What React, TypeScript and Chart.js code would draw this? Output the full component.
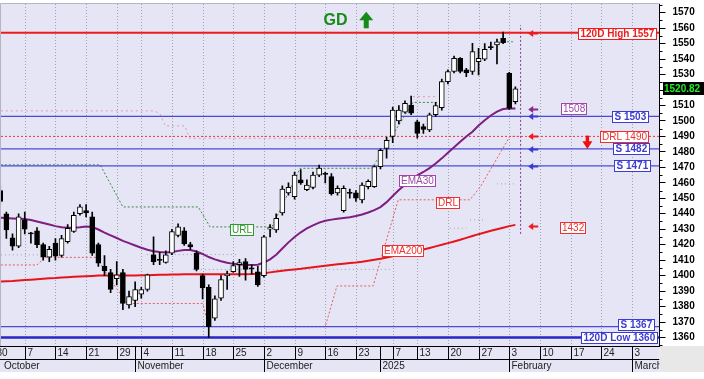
import React, { useEffect, useRef } from 'react';
import { Chart, registerables } from 'chart.js';

Chart.register(...registerables);

// ---------- data ----------
// trading days shown (index 1 = 2024-10-01; index 0 = 2024-09-30 lies left of the plot)
const tradingDates = [
  '2024-10-01','2024-10-02','2024-10-03','2024-10-04','2024-10-07','2024-10-08','2024-10-09','2024-10-10','2024-10-11',
  '2024-10-14','2024-10-15','2024-10-16','2024-10-17','2024-10-18','2024-10-21','2024-10-22','2024-10-23','2024-10-24',
  '2024-10-25','2024-10-29','2024-10-30','2024-10-31','2024-11-01','2024-11-04','2024-11-05','2024-11-06','2024-11-07',
  '2024-11-08','2024-11-11','2024-11-12','2024-11-13','2024-11-14','2024-11-15','2024-11-18','2024-11-19','2024-11-20',
  '2024-11-21','2024-11-22','2024-11-25','2024-11-26','2024-11-27','2024-11-28','2024-11-29','2024-12-02','2024-12-03',
  '2024-12-04','2024-12-05','2024-12-06','2024-12-09','2024-12-10','2024-12-11','2024-12-12','2024-12-13','2024-12-16',
  '2024-12-17','2024-12-18','2024-12-19','2024-12-20','2024-12-23','2024-12-27','2024-12-30','2024-12-31','2025-01-02',
  '2025-01-03','2025-01-07','2025-01-08','2025-01-09','2025-01-10','2025-01-13','2025-01-14','2025-01-15','2025-01-16',
  '2025-01-17','2025-01-20','2025-01-21','2025-01-22','2025-01-23','2025-01-24','2025-01-27','2025-01-28','2025-01-29',
  '2025-01-30','2025-01-31','2025-02-03','2025-02-04',
];
const firstIndex = 1;

const opens = [
  1455, 1440, 1424.5, 1419, 1436, 1427.5, 1429, 1420, 1412, 1421,
  1413, 1422, 1428.5, 1440, 1442, 1438, 1420, 1406, 1402, 1398,
  1402, 1381, 1384, 1388, 1391, 1413.5, 1410.5, 1408.5, 1414.5, 1426,
  1429, 1420, 1414.5, 1400, 1392.5, 1372.5, 1385.5, 1400, 1402.5, 1407,
  1409, 1405, 1402.5, 1400, 1430, 1429.5, 1440.5, 1453.5, 1451, 1462,
  1455.5, 1457, 1465, 1466, 1464, 1453.5, 1442, 1453.8, 1453.5, 1449,
  1457.5, 1457.5, 1470.5, 1482.3, 1490, 1500, 1505.6, 1510.3, 1499.5, 1496.3,
  1494.2, 1504, 1508.5, 1525.4, 1532, 1540.5, 1533, 1532, 1538.3, 1539.9,
  1547.5, 1549.1, 1553.4, 1530.8, 1512.5,
];
const highs = [
  1458, 1441, 1427, 1440, 1441, 1428, 1431, 1421, 1419, 1424,
  1426, 1433, 1441, 1446, 1446, 1441, 1421, 1413, 1404, 1409,
  1404, 1390, 1396, 1392.5, 1401, 1425, 1415, 1416, 1430, 1433.5,
  1431, 1421.5, 1416, 1401, 1394, 1387, 1400, 1403, 1409, 1410.5,
  1411, 1407, 1406, 1426, 1433, 1440, 1458, 1460, 1467, 1468.5,
  1462, 1467, 1471.5, 1467, 1466, 1458, 1458, 1456, 1455, 1460,
  1462, 1471, 1482, 1489.5, 1509, 1510, 1513, 1516, 1500.6, 1498,
  1505, 1512, 1527, 1533, 1542, 1541, 1534, 1550.2, 1547, 1550,
  1551, 1553, 1557.5, 1531.5, 1522,
];
const lows = [
  1446, 1424, 1416.5, 1418, 1427, 1421, 1418, 1410, 1409, 1410,
  1412, 1421, 1428, 1439, 1438, 1413, 1406, 1400, 1389, 1394,
  1378, 1379, 1380, 1385.5, 1390, 1407, 1407, 1408, 1413.5, 1425,
  1419.5, 1417, 1403, 1385, 1360, 1371, 1384, 1391, 1402, 1399.5,
  1397, 1401, 1393, 1399, 1425, 1428, 1439, 1452, 1449.5, 1459,
  1455, 1456, 1464, 1460, 1452, 1452, 1441, 1450, 1448, 1447,
  1456, 1457, 1469, 1476, 1486, 1498, 1505, 1504, 1488.8, 1492,
  1493, 1503, 1507, 1524, 1531, 1531, 1528.6, 1530, 1529.7, 1539,
  1546, 1536.8, 1550, 1507.5, 1511,
];
const closes = [
  1448, 1429.5, 1419, 1438, 1430, 1427, 1420, 1412, 1417, 1412.5,
  1424, 1430.5, 1439, 1444.5, 1440.5, 1414.5, 1408, 1403, 1391, 1400.5,
  1382, 1386.5, 1391, 1391, 1400.5, 1409, 1410, 1413.5, 1428.5, 1431.5,
  1420.5, 1418.5, 1404, 1392, 1367, 1385, 1397.5, 1401, 1406.5, 1408.5,
  1404, 1404.5, 1394, 1425, 1431, 1437, 1456, 1457, 1465, 1460,
  1458.5, 1465, 1469.5, 1465.5, 1453, 1456.5, 1456.5, 1453.3, 1450, 1458.5,
  1461, 1470.5, 1481, 1487.5, 1507, 1507, 1511.4, 1505, 1492, 1494.5,
  1503.9, 1510, 1525.5, 1531.9, 1540.5, 1532, 1531.2, 1544.8, 1540.5, 1546.3,
  1548, 1551.2, 1550.6, 1508.2, 1520.82,
];
const ema30 = [
  1437.5, 1437.2, 1437, 1436.8, 1436.6, 1436, 1435, 1434, 1433, 1432,
  1431.3, 1431, 1431, 1431.3, 1431.8, 1431.5, 1429.8, 1427.8, 1426, 1424.3,
  1422.5, 1421, 1419.5, 1418, 1416.7, 1415.8, 1415.2, 1415, 1415.3, 1416,
  1416.6, 1416.5, 1415.6, 1414, 1412, 1410.5, 1409.3, 1408.3, 1407.6, 1407.2,
  1407, 1406.9, 1407, 1408.5, 1410.5, 1413.5, 1417.5, 1421.5, 1425, 1428,
  1430.5, 1432.5, 1434.3, 1435.5, 1436.2, 1436.8, 1437.3, 1437.8, 1438.5, 1439.5,
  1440.8, 1442.3, 1444.3, 1447.5, 1451.5, 1455.3, 1458.8, 1462, 1464.8, 1467,
  1469.5, 1472.5, 1475.8, 1479.5, 1483, 1486.5, 1490, 1493, 1497, 1500.5,
  1503.5, 1506, 1507.7, 1508, 1508,
];
const ema200 = [
  1396.1, 1396.3, 1396.5, 1396.8, 1397.1, 1397.4, 1397.7, 1398, 1398.3, 1398.5,
  1398.8, 1399, 1399.2, 1399.4, 1399.6, 1399.8, 1400, 1400, 1400, 1400,
  1400, 1400, 1400.1, 1400.2, 1400.3, 1400.4, 1400.5, 1400.6, 1400.7, 1400.8,
  1400.9, 1400.9, 1400.9, 1400.9, 1400.9, 1400.9, 1400.9, 1400.9, 1400.9, 1400.9,
  1400.9, 1401, 1401.2, 1401.6, 1402.1, 1402.6, 1403.1, 1403.6, 1404, 1404.4,
  1404.9, 1405.4, 1405.9, 1406.4, 1406.9, 1407.3, 1407.7, 1408.1, 1408.5, 1409,
  1409.6, 1410.2, 1410.9, 1411.7, 1412.5, 1413.3, 1414.2, 1415.1, 1416, 1416.9,
  1417.9, 1418.9, 1419.9, 1421, 1422.1, 1423.2, 1424.4, 1425.6, 1426.8, 1427.9,
  1429, 1430, 1431, 1432, 1432.8,
];

// step / band lines: segments of [tradingDayIndex, value]
const urlSegments = [
  [[1.1, 1471.6], [17.3, 1471.6], [21, 1444.4], [33.3, 1444.4], [35.2, 1431.5], [45.3, 1431.5],
   [49.9, 1469.4], [61.6, 1469.4], [68.3, 1512], [72.2, 1512]],
  [[83, 1551.2], [84.6, 1551.2]],
];
const drlSegments = [
  [[1.1, 1406.9], [7, 1406.9], [8.3, 1411.8], [16.8, 1411.8], [18.5, 1400], [21.7, 1382], [34, 1382],
   [35, 1367], [54, 1367], [55.9, 1393.3], [61.8, 1393.3], [65.9, 1449], [77.6, 1449], [79.3, 1457.5],
   [84.1, 1490], [85.3, 1490]],
];
const upperSegments = [
  [[1.1, 1506.5], [26, 1506.5], [27, 1505], [27.9, 1496.8], [31.1, 1496.8], [31.9, 1488.8], [62, 1488.8]],
  [[68.3, 1515.7], [72.2, 1515.7]],
];
const lowerSegments = [
  [[1.1, 1413.4], [7.5, 1413.4]],
  [[24.9, 1413.6], [39.5, 1413.6]],
  [[32.4, 1404], [64.5, 1404]],
  [[74.3, 1430.6], [77, 1430.6]],
  [[77.6, 1436], [80, 1436]],
  [[82, 1459.3], [85, 1459.3]],
];

const high120 = 1557;
const low120 = 1360;
const supportLevels = [1503, 1482, 1471, 1367];
const drlLevel = 1490;
const ema30Last = 1508;
const ema200Last = 1432;
const lastClose = 1520.82;
const todayIndex = 85.85;
const todaySpan = [1427, 1562];

const yTickValues = [1360, 1370, 1380, 1390, 1400, 1410, 1420, 1430, 1440, 1450, 1460, 1470, 1480,
  1490, 1500, 1510, 1520, 1530, 1540, 1550, 1560, 1570];
const weekTickIndex = [0, 5, 10, 15, 20, 24, 29, 34, 39, 44, 49, 54, 59, 65, 69, 74, 79, 84, 89, 94, 99, 104];
const weekTickLabels = ['30', '7', '14', '21', '29', '4', '11', '18', '25', '2', '9', '16', '23', '7', '13',
  '20', '27', '3', '10', '17', '24', '3'];
const monthIndex = [0, 23, 44, 63, 84, 104];
const monthLabels = ['October', 'November', 'December', '2025', 'February', 'March'];

// ---------- layout / style ----------
const X_MIN = 1.125;
const X_MAX = 108.5;
const Y_MIN = 1354.5;
const Y_MAX = 1575.6;
const FONT = '"Liberation Sans", Arial, sans-serif';
const LAVENDER = '#E5E5F6';
const BLUE = '#3C3CD2';
const RED = '#EE1C1C';
const PURPLE = '#7E1E80';

function segData(segs: number[][][]) {
  const out: any[] = [];
  segs.forEach((seg, k) => {
    if (k) out.push({ x: seg[0][0], y: null });
    seg.forEach(([x, y]) => out.push({ x, y }));
  });
  return out;
}
function hline(v: number) {
  return [{ x: X_MIN, y: v }, { x: X_MAX, y: v }];
}
function lineDs(data: any[], color: string, width: number, dash: number[] = [], order = 3) {
  return {
    type: 'line', data, borderColor: color, borderWidth: width, borderDash: dash,
    pointRadius: 0, tension: 0, fill: false, spanGaps: false, order,
  };
}

const decor = {
  id: 'decor',
  beforeDraw(chart: any) {
    const { ctx, chartArea: a, width, height } = chart;
    const xs = chart.scales.x;
    ctx.save();
    ctx.fillStyle = '#ffffff';
    ctx.fillRect(0, 0, width, height);
    ctx.fillStyle = LAVENDER;
    ctx.fillRect(a.left, a.top, a.right - a.left, a.bottom - a.top);
    ctx.fillRect(0, a.bottom, a.right, 372 - a.bottom);
    ctx.fillStyle = '#E8E8E8';
    ctx.fillRect(a.right, a.bottom, width - a.right, 372 - a.bottom);
    // weekly dotted grid
    ctx.strokeStyle = '#A2A2B6';
    ctx.lineWidth = 1;
    ctx.setLineDash([1, 2]);
    weekTickIndex.forEach((i) => {
      const x = Math.round(xs.getPixelForValue(i)) + 0.5;
      if (x <= a.left || x >= a.right) return;
      ctx.beginPath();
      ctx.moveTo(x, a.top);
      ctx.lineTo(x, a.bottom);
      ctx.stroke();
    });
    ctx.restore();
  },
  afterDatasetsDraw(chart: any) {
    const { ctx } = chart;
    const xs = chart.scales.x;
    const ys = chart.scales.y;
    const px = (i: number) => xs.getPixelForValue(i);
    const py = (v: number) => ys.getPixelForValue(v);
    ctx.save();

    const tag = (text: string, idx: number, v: number, color: string, bold: boolean) => {
      ctx.font = `${bold ? 'bold ' : ''}10px ${FONT}`;
      const w = Math.round(ctx.measureText(text).width + (bold ? 4 : 3));
      const h = 11;
      const x0 = Math.round(px(idx));
      const y0 = Math.round(py(v) - h / 2);
      ctx.fillStyle = '#ffffff';
      ctx.fillRect(x0, y0, w, h);
      ctx.strokeStyle = color;
      ctx.lineWidth = 1;
      ctx.setLineDash([]);
      ctx.strokeRect(x0 + 0.5, y0 + 0.5, w, h);
      ctx.fillStyle = color;
      ctx.textAlign = 'left';
      ctx.textBaseline = 'middle';
      ctx.fillText(text, x0 + (bold ? 2.5 : 2), y0 + h / 2 + 1);
    };

    const leftArrow = (v: number, color: string) => {
      const x = px(87.09);
      const y = Math.round(py(v)) + 0.5;
      ctx.fillStyle = color;
      ctx.beginPath();
      ctx.moveTo(x, y);
      ctx.lineTo(x + 5, y - 3.5);
      ctx.lineTo(x + 5, y + 3.5);
      ctx.closePath();
      ctx.fill();
      ctx.fillRect(x + 4, y - 1, 6, 2);
    };

    // arrows by the levels
    leftArrow(high120, RED);
    leftArrow(ema30Last, '#8A2A8E');
    leftArrow(supportLevels[0], BLUE);
    leftArrow(drlLevel, RED);
    leftArrow(supportLevels[1], BLUE);
    leftArrow(supportLevels[2], BLUE);
    leftArrow(ema200Last, RED);

    // tags
    tag(`120D High ${high120}`, 95.24, 1556.6, RED, true);
    tag(`${ema30Last}`, 92.4, ema30Last, '#A048A8', false);
    tag(`S ${supportLevels[0]}`, 100.68, supportLevels[0], BLUE, true);
    tag(`DRL ${drlLevel}`, 98.8, drlLevel, '#F03030', false);
    tag(`S ${supportLevels[1]}`, 100.85, supportLevels[1], BLUE, true);
    tag(`S ${supportLevels[2]}`, 101.1, supportLevels[2], BLUE, true);
    tag(`${ema200Last}`, 92.25, 1431.3, '#F03030', false);
    tag(`S ${supportLevels[3]}`, 101.76, 1368.3, BLUE, true);
    tag(`120D Low ${low120}`, 95.63, 1359.7, BLUE, true);
    tag('EMA30', 66.06, 1461.5, '#A048A8', false);
    tag('URL', 38.46, 1430, '#2E9A2E', false);
    tag('DRL', 72.04, 1447.3, '#F03030', false);
    tag('EMA200', 63.19, 1416.3, '#F03030', false);

    // red down arrow (DRL)
    {
      const x = px(96.74);
      const yt = py(1490.5);
      const yb = py(1481.9);
      ctx.fillStyle = '#EE1010';
      ctx.fillRect(x - 1.7, yt, 3.4, (yb - yt) * 0.55);
      ctx.beginPath();
      ctx.moveTo(x - 5, yt + (yb - yt) * 0.42);
      ctx.lineTo(x + 5, yt + (yb - yt) * 0.42);
      ctx.lineTo(x, yb);
      ctx.closePath();
      ctx.fill();
    }
    // GD + green up arrow
    ctx.fillStyle = '#178A17';
    ctx.font = `bold 16px ${FONT}`;
    ctx.textAlign = 'center';
    ctx.textBaseline = 'middle';
    ctx.fillText('GD', px(55.66), py(1565.6) + 1);
    {
      const x = px(60.68);
      const yt = py(1570.6);
      const yb = py(1559.9);
      ctx.beginPath();
      ctx.moveTo(x, yt);
      ctx.lineTo(x + 7, yt + 8.5);
      ctx.lineTo(x - 7, yt + 8.5);
      ctx.closePath();
      ctx.fill();
      ctx.fillRect(x - 2.5, yt + 8, 5, yb - yt - 8);
    }
    ctx.restore();
  },
  afterDraw(chart: any) {
    const { ctx, chartArea: a, width } = chart;
    const xs = chart.scales.x;
    const ys = chart.scales.y;
    ctx.save();
    // plot frame
    ctx.strokeStyle = '#B4B4C4';
    ctx.lineWidth = 1;
    ctx.beginPath();
    ctx.moveTo(a.left - 0.5, a.bottom);
    ctx.lineTo(a.left - 0.5, a.top - 0.5);
    ctx.lineTo(a.right, a.top - 0.5);
    ctx.stroke();

    // minor y ticks
    ctx.strokeStyle = '#000';
    for (let v = 1355; v <= 1575; v += 5) {
      if (v % 10 === 0) continue;
      const y = Math.round(ys.getPixelForValue(v)) + 0.5;
      if (y < a.top || y > a.bottom) continue;
      ctx.beginPath();
      ctx.moveTo(a.right, y);
      ctx.lineTo(a.right + 3, y);
      ctx.stroke();
    }

    // last price box
    {
      const y = ys.getPixelForValue(lastClose);
      const x0 = Math.round(a.right + 3);
      ctx.fillStyle = '#000';
      ctx.fillRect(x0, Math.round(y - 6.5), width - x0, 13);
      ctx.fillStyle = '#22EE22';
      ctx.font = `bold 10px ${FONT}`;
      ctx.textAlign = 'left';
      ctx.textBaseline = 'middle';
      ctx.fillText(String(lastClose), x0 + 1, y + 0.5);
    }

    // bottom date axis
    const top = Math.round(a.bottom) + 0.5;
    const mid = top + 13;
    const bot = 372;
    ctx.beginPath();
    ctx.rect(0, a.bottom - 1, a.right, bot - a.bottom + 1);
    ctx.clip();
    ctx.strokeStyle = '#000';
    ctx.beginPath();
    ctx.moveTo(0, top);
    ctx.lineTo(a.right, top);
    ctx.moveTo(0, mid);
    ctx.lineTo(a.right, mid);
    ctx.stroke();
    ctx.font = `10px ${FONT}`;
    ctx.fillStyle = '#222';
    ctx.textAlign = 'left';
    ctx.textBaseline = 'middle';
    weekTickIndex.forEach((i, k) => {
      const x = Math.round(xs.getPixelForValue(i)) + 0.5;
      if (x > a.right) return;
      ctx.beginPath();
      ctx.moveTo(x, top);
      ctx.lineTo(x, mid);
      ctx.stroke();
      ctx.fillText(weekTickLabels[k], x + 2, top + 7);
    });
    monthIndex.forEach((i, k) => {
      const xr = xs.getPixelForValue(i);
      const x = Math.round(xr) + 0.5;
      if (x > a.right) return;
      if (x > a.left) {
        ctx.beginPath();
        ctx.moveTo(x, top);
        ctx.lineTo(x, bot);
        ctx.stroke();
      }
      ctx.fillText(monthLabels[k], Math.max(x, a.left + 1) + 2, mid + 7);
    });
    ctx.restore();
  },
};

export default function App() {
  const ref = useRef<HTMLCanvasElement>(null);
  useEffect(() => {
    document.body.style.margin = '0';
    const canvas = ref.current;
    if (!canvas) return;

    const wickData = highs.map((h, i) => ({ x: i + firstIndex, y: [lows[i], h] }));
    const bodyData = opens.map((o, i) => {
      const c = closes[i];
      let lo = Math.min(o, c);
      let hi = Math.max(o, c);
      if (hi - lo < 0.7) {
        const m = (hi + lo) / 2;
        lo = m - 0.35;
        hi = m + 0.35;
      }
      return { x: i + firstIndex, y: [lo, hi] };
    });
    const ema30Data = ema30.map((v, i) => ({ x: i + firstIndex, y: v }));
    const ema200Data = ema200.map((v, i) => ({ x: i + firstIndex, y: v }));

    const datasets: any[] = [
      {
        type: 'bar', label: 'body', data: bodyData, order: 0, grouped: false,
        barThickness: 5, borderWidth: 1, borderColor: '#000', borderSkipped: false,
        backgroundColor: (c: any) => (closes[c.dataIndex] > opens[c.dataIndex] + 0.7 ? '#ffffff' : '#000000'),
      },
      {
        type: 'bar', label: 'wick', data: wickData, order: 1, grouped: false,
        barThickness: 1, borderWidth: 0, backgroundColor: '#000',
      },
      lineDs(ema30Data, PURPLE, 2, [], 2),
      lineDs(ema200Data, '#E8141C', 2, [], 2),
      lineDs(hline(high120), RED, 2),
      ...supportLevels.map((v) => lineDs(hline(v), '#4A4AD8', 1.2)),
      lineDs(hline(low120), '#2626C6', 2.5),
      lineDs(hline(drlLevel), '#F03A3A', 1, [2, 2]),
      lineDs(segData(urlSegments), '#3A8C3A', 1, [2, 2], 4),
      lineDs(segData(drlSegments), '#E85C5C', 1, [2, 2], 4),
      lineDs(segData(upperSegments), '#E49AAE', 1, [2, 3], 4),
      lineDs(segData(lowerSegments), '#A0A0B4', 1, [1, 3], 4),
      lineDs([{ x: todayIndex, y: todaySpan[0] }, { x: todayIndex, y: todaySpan[1] }], '#8A3A8A', 1, [2, 2], 4),
    ];

    const chart = new Chart(canvas, {
      type: 'line',
      data: { labels: tradingDates, datasets },
      options: {
        responsive: false,
        animation: false,
        devicePixelRatio: 1,
        events: [],
        layout: { padding: { left: 1, top: 4, right: 0, bottom: 33 } },
        plugins: { legend: { display: false }, tooltip: { enabled: false } },
        scales: {
          x: { type: 'linear', display: false, min: X_MIN, max: X_MAX, offset: false },
          y: {
            type: 'linear',
            position: 'right',
            min: Y_MIN,
            max: Y_MAX,
            afterBuildTicks: (s: any) => {
              s.ticks = yTickValues.map((v) => ({ value: v }));
            },
            afterFit: (s: any) => {
              s.width = 44.5;
              s.paddingTop = 0;
              s.paddingBottom = 0;
              s.paddingLeft = 0;
              s.paddingRight = 0;
            },
            grid: { drawOnChartArea: false, drawTicks: true, tickLength: 6, tickColor: '#000', color: '#000' },
            border: { display: true, color: '#000', width: 1 },
            ticks: {
              padding: 7,
              color: '#000',
              autoSkip: false,
              font: { family: FONT, size: 10, weight: 'bold' },
              callback: (v: any) => String(v),
            },
          },
        },
      } as any,
      plugins: [decor],
    } as any);
    return () => chart.destroy();
  }, []);
  return <canvas ref={ref} width={704} height={379} style={{ display: 'block', width: 704, height: 379 }} />;
}
